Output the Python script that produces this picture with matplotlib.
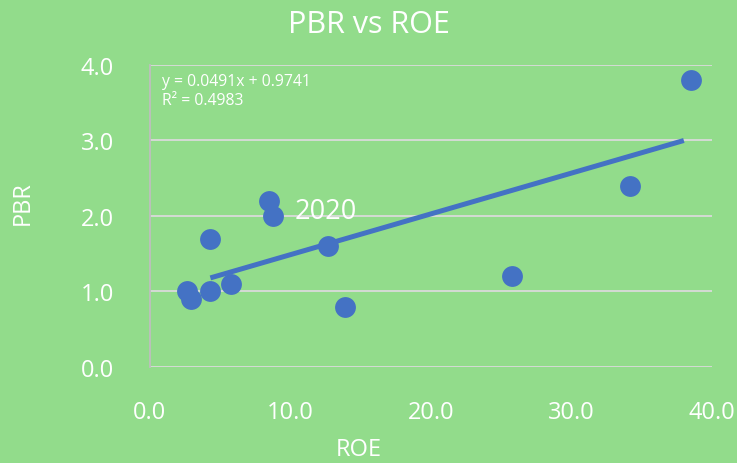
import numpy as np
import matplotlib.pyplot as plt

# ROE / PBR points
roe = [38.5, 34.2, 25.8, 13.9, 12.7, 8.5, 8.75, 4.3, 5.8, 4.3, 2.6, 2.9]
pbr = [3.8, 2.4, 1.2, 0.8, 1.6, 2.2, 2.0, 1.7, 1.1, 1.0, 1.0, 0.9]

# trend line as drawn in the chart
trend_x = [4.3, 38.0]
trend_y = [1.18, 3.0]

x_ticks = [0, 10, 20, 30, 40]
y_ticks = [0, 1, 2, 3, 4]
eq_text = "y = 0.0491x + 0.9741\nR² = 0.4983"
label_idx = 4
label_text = "2020"

bg = "#92DC8B"
blue = "#4472C4"
plt.rcParams['font.family'] = ['Open Sans', 'DejaVu Sans']

fig = plt.figure(figsize=(7.37, 4.64), dpi=100, facecolor=bg)
ax = fig.add_axes([0.2035, 0.2069, 0.7625, 0.6509])
ax.set_facecolor(bg)

ax.scatter(roe, pbr, s=225, color=blue, zorder=3, linewidths=0)
ax.plot(trend_x, trend_y, color=blue, lw=3.6, solid_capstyle='butt', zorder=2)

ax.set_xlim(0, 40)
ax.set_ylim(0, 4)
ax.set_xticks(x_ticks)
ax.set_yticks(y_ticks)
ax.set_xticklabels([f"{v:.1f}" for v in x_ticks])
ax.set_yticklabels([f"{v:.1f}" for v in y_ticks])
ax.tick_params(length=0, labelcolor='white', labelsize=17)
ax.tick_params(axis='y', pad=26)
ax.tick_params(axis='x', pad=24)

ax.grid(axis='y', color='#DADADA', lw=1.3)
ax.set_axisbelow(True)
for side in ['top', 'right', 'bottom']:
    ax.spines[side].set_visible(False)
ax.spines['left'].set_color('#BFBFBF')
ax.spines['left'].set_linewidth(1.3)

ax.annotate(label_text, (roe[label_idx], pbr[label_idx]), xytext=(-2, 25),
            textcoords='offset points', ha='center', va='center',
            color='white', fontsize=19.5)

ax.text(0.022, 0.975, eq_text, transform=ax.transAxes, ha='left', va='top',
        color='white', fontsize=11.3, linespacing=1.3)

fig.text(0.5, 0.946, "PBR vs ROE", ha='center', va='center', color='white', fontsize=22)
fig.text(0.487, 0.03, "ROE", ha='center', va='center', color='white', fontsize=17)
fig.text(0.031, 0.5625, "PBR", ha='center', va='center', color='white', fontsize=17,
         rotation=90)

fig.savefig("out.png", dpi=100, facecolor=bg)
